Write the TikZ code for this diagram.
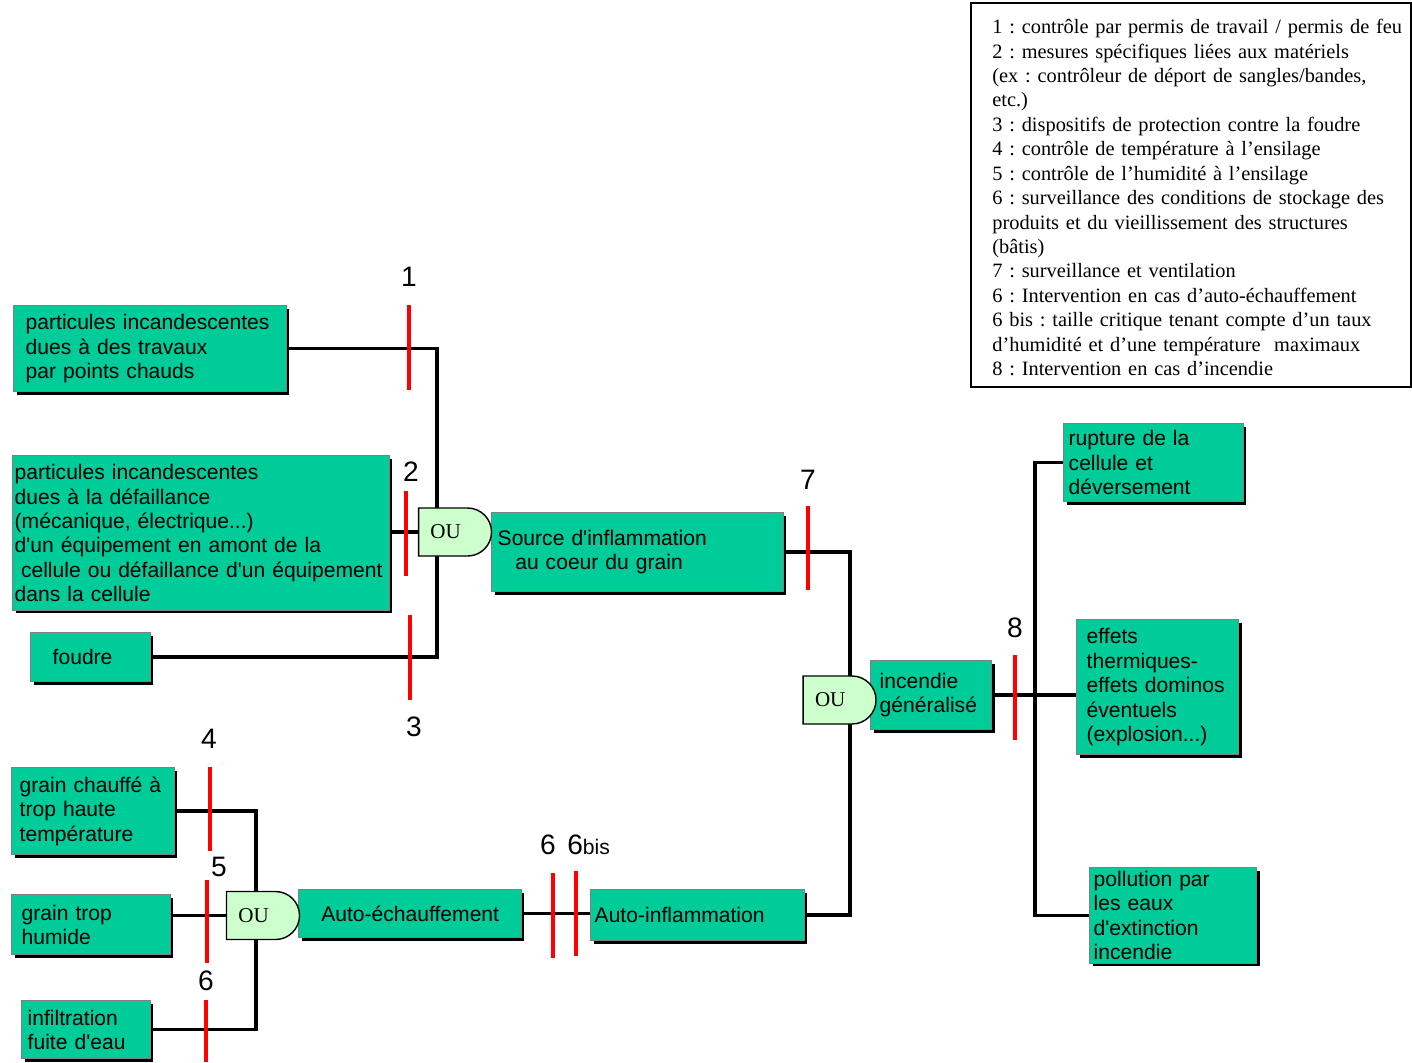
\documentclass[tikz,border=0pt]{standalone}
\usepackage{fontspec}
\setmainfont{Liberation Serif}
\setsansfont{Liberation Sans}[Ligatures=TeXOff]
\usetikzlibrary{shapes.misc,shadows,backgrounds}

\definecolor{evtgreen}{RGB}{0,204,153}
\definecolor{evtgray}{RGB}{128,128,128}
\definecolor{gatefill}{RGB}{204,255,204}

\newcommand{\boxfont}{\sffamily\fontsize{12}{13.9}\selectfont}
\newcommand{\legfont}{\rmfamily\fontsize{11.6}{13.9}\selectfont\frenchspacing}
\newcommand{\numfont}{\sffamily\fontsize{16}{18}\selectfont}
\newcommand{\gatefont}{\rmfamily\fontsize{12}{13.9}\selectfont}

\tikzset{
  evt/.style={draw=evtgray, fill=evtgreen, line width=0.8pt,
    general shadow={fill=black, shadow xshift=1.6pt, shadow yshift=-1.6pt},
    font=\boxfont, align=left, anchor=north west, inner ysep=2pt},
  ougate/.style={rounded rectangle, rounded rectangle left arc=none, draw, fill=gatefill,
    line width=0.8pt, minimum width=1.46cm, minimum height=0.96cm, inner sep=0pt, font=\gatefont},
  wire/.style={line width=2pt},
  barrier/.style={red, line width=1.8pt},
  num/.style={font=\numfont, inner sep=0pt},
}

\begin{document}
\begin{tikzpicture}[x=0.02cm, y=-0.02cm]
  \useasboundingbox (0,0) rectangle (1412,1062);

  % legende des barrieres
  \draw[line width=0.7pt] (971,3) rectangle (1411,387);
  \node[anchor=north west, text width=8.45cm, inner sep=0pt, align=left, font=\legfont] (leg) at (992,19) {%
    1 : contrôle par permis de travail / permis de feu\\
    2 : mesures spécifiques liées aux matériels\\
    (ex : contrôleur de déport de sangles/bandes,\\
    etc.)\\
    3 : dispositifs de protection contre la foudre\\
    4 : contrôle de température à l’ensilage\\
    5 : contrôle de l’humidité à l’ensilage\\
    6 : surveillance des conditions de stockage des\\
    produits et du vieillissement des structures\\
    (bâtis)\\
    7 : surveillance et ventilation\\
    6 : Intervention en cas d’auto-échauffement\\
    6 bis : taille critique tenant compte d’un taux\\
    d’humidité et d’une température~ maximaux\\
    8 : Intervention en cas d’incendie};

  % evenements
  \node[evt, text width=4.98cm, inner xsep=0.24cm, minimum height=1.72cm] (pchaud) at (13,305) {particules incandescentes\\dues à des travaux\\par points chauds};
  \node[evt, text width=7.46cm, inner xsep=0.04cm, minimum height=3.1cm] (pdef) at (12,455) {particules incandescentes\\dues à la défaillance\\(mécanique, électrique...)\\d'un équipement en amont de la\\\hspace*{0.3em}cellule ou défaillance d'un équipement\\dans la cellule};
  \node[evt, text width=1.52cm, inner xsep=0.44cm, minimum height=0.98cm] (foudre) at (30,632) {foudre};
  \node[evt, text width=5.6cm, inner xsep=0.12cm, minimum height=1.58cm] (source) at (491,512) {Source d'inflammation\\\hspace*{10pt}au coeur du grain};
  \node[evt, text width=2.06cm, inner xsep=0.18cm, minimum height=1.38cm] (incendie) at (870,660) {incendie\\généralisé};
  \node[evt, text width=3.4cm, inner xsep=0.1cm, minimum height=1.56cm] (rupture) at (1063,423) {rupture de la\\cellule et\\déversement};
  \node[evt, text width=2.84cm, inner xsep=0.2cm, minimum height=2.7cm] (effets) at (1076,619) {effets\\thermiques-\\effets dominos\\éventuels\\(explosion...)};
  \node[evt, text width=3.18cm, inner xsep=0.08cm, minimum height=1.86cm] (pollution) at (1089,867) {pollution par\\les eaux\\d'extinction\\incendie};
  \node[evt, text width=2.94cm, inner xsep=0.16cm, minimum height=1.74cm] (chauffe) at (11,767) {grain chauffé à\\trop haute\\température};
  \node[evt, text width=2.78cm, inner xsep=0.2cm, minimum height=1.2cm] (humide) at (11,894) {grain trop\\humide};
  \node[evt, text width=2.34cm, inner xsep=0.12cm, minimum height=1.16cm] (fuite) at (21,1000) {infiltration\\fuite d'eau};
  \node[evt, text width=4.22cm, inner xsep=0.12cm, minimum height=0.96cm, align=center] (autoech) at (298,889) {Auto-échauffement};
  \node[evt, text width=4.12cm, inner xsep=0.08cm, minimum height=1.02cm] (autoinf) at (590,889) {Auto-inflammation};

  % portes OU
  \node[ougate] (ou1) at (454.5,532) {OU\hspace*{10pt}};
  \node[ougate] (ou2) at (839,700) {OU\hspace*{10pt}};
  \node[ougate] (ou3) at (262.5,915.5) {OU\hspace*{10pt}};

  % liaisons
  \begin{scope}[on background layer]
    \coordinate (v1) at (437,500);
    \coordinate (v2) at (850,700);
    \coordinate (v3) at (256,900);
    \coordinate (v4) at (1035,700);
    \draw[wire] (pchaud.east) -| (v1 |- foudre.east) -- (foudre.east);
    \draw[wire] (pdef.east |- ou1.west) -- (ou1.west);
    \draw[wire] (source.east) -| (v2 |- autoinf.east) -- (autoinf.east);
    \draw[wire] (chauffe.east) -| (v3 |- fuite.east) -- (fuite.east);
    \draw[wire] (humide.east |- ou3.west) -- (ou3.west);
    \draw[wire] (autoech.east) -- (autoech.east -| autoinf.west);
    \draw[wire] (incendie.east) -- (incendie.east -| effets.west);
    \draw[wire] (rupture.west) -| (v4 |- pollution.west) -- (pollution.west);
  \end{scope}

  % barrieres
  \draw[barrier] (409,305) -- (409,390);
  \node[num] (b1) at (409,277) {1};
  \draw[barrier] (406,491) -- (406,576);
  \node[num] (b2) at (411,472) {2};
  \draw[barrier] (410,615) -- (410,700);
  \node[num] (b3) at (414,727) {3};
  \draw[barrier] (808,506) -- (808,590);
  \node[num] (b7) at (808,480) {7};
  \draw[barrier] (1015,655) -- (1015,740);
  \node[num] (b8) at (1015,628) {8};
  \draw[barrier] (210,767) -- (210,851);
  \node[num] (b4) at (209,739) {4};
  \draw[barrier] (207,880) -- (207,963);
  \node[num] (b5) at (219,867) {5};
  \draw[barrier] (206,1000) -- (206,1062);
  \node[num] (b6) at (206,981) {6};
  \draw[barrier] (553,873) -- (553,958);
  \draw[barrier] (576,871) -- (576,956);
  \node[num] (b6a) at (548,845) {6};
  \node[num, anchor=west] (b6b) at (567,845) {6{\fontsize{12}{14}\selectfont bis}};
\end{tikzpicture}
\end{document}
